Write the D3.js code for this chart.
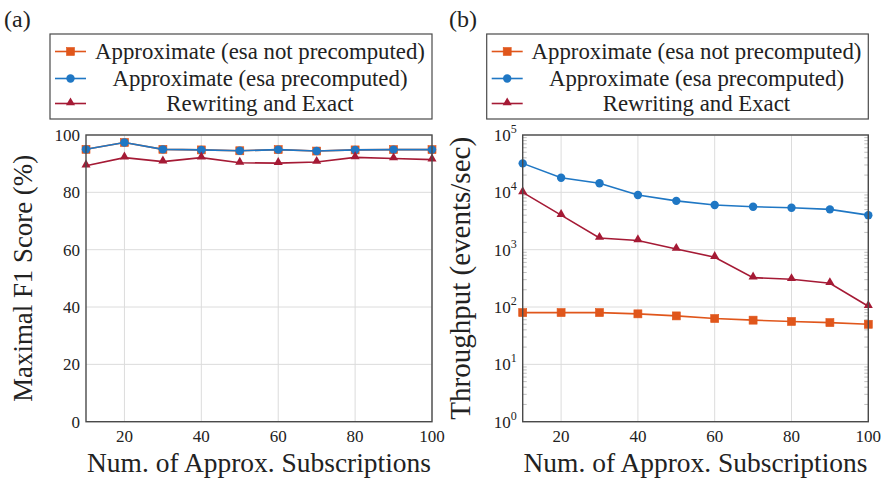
<!DOCTYPE html>
<html>
<head>
<meta charset="utf-8">
<script src="https://cdn.jsdelivr.net/npm/d3@7"></script>
<style>
  body { margin: 0; background: #fff; }
</style>
</head>
<body>
<svg id="chart" width="885" height="482"></svg>
<script>
// Data
const subscriptions = [10, 20, 30, 40, 50, 60, 70, 80, 90, 100];

// (a) maximal F1 score (%)
const f1NotPrecomputed = [95.0, 97.4, 95.0, 94.8, 94.5, 94.9, 94.4, 94.8, 94.9, 94.9];
const f1Precomputed    = [95.0, 97.4, 95.0, 94.8, 94.5, 94.9, 94.4, 94.8, 94.9, 94.9];
const f1Rewriting      = [89.3, 92.1, 90.7, 92.1, 90.3, 90.2, 90.6, 92.2, 91.8, 91.4];

// (b) throughput (events/sec)
const tpNotPrecomputed = [80, 80, 80, 76, 70, 63, 59, 56, 53.5, 50];
const tpPrecomputed    = [32000, 18000, 14400, 9000, 7100, 6000, 5600, 5400, 5050, 4000];
const tpRewriting      = [10000, 4000, 1600, 1450, 1030, 740, 325, 305, 260, 103];

const seriesNames = ["Approximate (esa not precomputed)", "Approximate (esa precomputed)", "Rewriting and Exact"];
const xTicks = [20, 40, 60, 80, 100];
const f1Ticks = [0, 20, 40, 60, 80, 100];
const tpTicks = [1, 10, 100, 1000, 10000, 100000];

const colors = ["#e0561b", "#1f77c4", "#a51a35"];
const markers = ["square", "circle", "triangle"];
const serif = "'Liberation Serif', 'DejaVu Serif', 'Noto Serif', Tinos, 'Nimbus Roman', 'Times New Roman', Times, Georgia, serif";

const svg = d3.select("#chart").attr("font-family", serif);

// scale a text's font size so it spans the width seen in the reference
function fitWidth(sel, target) {
  const w = sel.node().getComputedTextLength();
  const fs = +sel.attr("font-size");
  if (w > 0) sel.attr("font-size", (fs * target / w).toFixed(2));
}

function drawMarker(g, type, x, y, color) {
  if (type === "square") {
    g.append("rect").attr("x", x - 4).attr("y", y - 4).attr("width", 8).attr("height", 8)
      .attr("fill", color).attr("stroke", color).attr("stroke-width", 0.6);
  } else if (type === "circle") {
    g.append("circle").attr("cx", x).attr("cy", y).attr("r", 4.2).attr("fill", color);
  } else {
    const s = d3.symbol().type(d3.symbolTriangle).size(36);
    g.append("path").attr("d", s()).attr("transform", `translate(${x},${y - 0.8})`).attr("fill", color);
  }
}

function drawPanel(opts) {
  const { left, right, y, yTicks, yFormat, series, label, yTitle, legendLeft, labelX } = opts;
  const pTop = opts.plotTop, pBottom = opts.plotBottom;
  const x = d3.scaleLinear().domain([10, 100]).range([left, right]);
  const g = svg.append("g");

  // grid
  g.append("g").selectAll("line").data(xTicks).join("line")
    .attr("x1", d => x(d)).attr("x2", d => x(d)).attr("y1", pTop).attr("y2", pBottom)
    .attr("stroke", "#dcdcdc").attr("stroke-width", 1);
  g.append("g").selectAll("line").data(yTicks).join("line")
    .attr("x1", left).attr("x2", right).attr("y1", d => y(d)).attr("y2", d => y(d))
    .attr("stroke", "#dcdcdc").attr("stroke-width", 1);

  // minor ticks for log axis
  if (opts.log) {
    const minors = [];
    for (let e = 0; e < 5; e++) for (let m = 2; m <= 9; m++) minors.push(m * Math.pow(10, e));
    [left, right].forEach((edge, i) => {
      g.append("g").selectAll("line").data(minors).join("line")
        .attr("x1", edge).attr("x2", edge + (i === 0 ? 4 : -4))
        .attr("y1", d => y(d)).attr("y2", d => y(d))
        .attr("stroke", "#b0b0b0").attr("stroke-width", 0.8);
    });
  }

  // x tick labels
  g.append("g").selectAll("text").data(xTicks).join("text")
    .attr("x", d => x(d)).attr("y", pBottom + 20)
    .attr("text-anchor", "middle").attr("font-size", 17).attr("fill", "#222")
    .text(d => d);

  // y tick labels
  const yl = g.append("g").selectAll("text").data(yTicks).join("text")
    .attr("x", left - 6).attr("y", d => y(d) + 6)
    .attr("text-anchor", "end").attr("font-size", 17).attr("fill", "#222");
  yFormat(yl);

  // series
  series.forEach((s, i) => {
    const line = d3.line().x((d, j) => x(subscriptions[j])).y(d => y(d));
    g.append("path").datum(s).attr("d", line).attr("fill", "none")
      .attr("stroke", colors[i]).attr("stroke-width", 1.6);
    const mg = g.append("g");
    s.forEach((v, j) => drawMarker(mg, markers[i], x(subscriptions[j]), y(v), colors[i]));
  });

  // frame
  g.append("rect").attr("x", left).attr("y", pTop).attr("width", right - left).attr("height", pBottom - pTop)
    .attr("fill", "none").attr("stroke", "#4a4a4a").attr("stroke-width", 1.4);

  // axis titles
  const xt = g.append("text").attr("x", (left + right) / 2).attr("y", 472)
    .attr("text-anchor", "middle").attr("font-size", 24).attr("fill", "#222")
    .text("Num. of Approx. Subscriptions");
  fitWidth(xt, 344);
  const yt = g.append("text").attr("transform", `translate(${opts.yTitleX},${(pTop + pBottom) / 2}) rotate(-90)`)
    .attr("text-anchor", "middle").attr("font-size", 24).attr("fill", "#222")
    .text(yTitle);
  fitWidth(yt, opts.yTitleWidth);

  // panel label
  g.append("text").attr("x", labelX).attr("y", 27).attr("font-size", 24).attr("fill", "#222").text(label);

  // legend
  const lg = g.append("g");
  lg.append("rect").attr("x", legendLeft).attr("y", 34).attr("width", right - legendLeft).attr("height", 85)
    .attr("fill", "#fff").attr("stroke", "#4a4a4a").attr("stroke-width", 1.2);
  const rowY = [51.5, 78.5, 103.5];
  const textCenter = (legendLeft + 38 + right) / 2;
  const texts = seriesNames.map((name, i) => {
    lg.append("line").attr("x1", legendLeft + 5).attr("x2", legendLeft + 36)
      .attr("y1", rowY[i]).attr("y2", rowY[i]).attr("stroke", colors[i]).attr("stroke-width", 1.6);
    drawMarker(lg, markers[i], legendLeft + 20.5, rowY[i], colors[i]);
    return lg.append("text").attr("x", textCenter).attr("y", rowY[i] + 7)
      .attr("text-anchor", "middle").attr("font-size", 22).attr("fill", "#222").text(name);
  });
  fitWidth(texts[0], 330);
  texts.forEach(t => t.attr("font-size", texts[0].attr("font-size")));
}

const plotTop = 135, plotBottom = 421.7;

// (a)
drawPanel({
  left: 86, right: 432, plotTop, plotBottom,
  y: d3.scaleLinear().domain([0, 100]).range([plotBottom, plotTop]),
  yTicks: f1Ticks,
  yFormat: sel => sel.text(d => d),
  series: [f1NotPrecomputed, f1Precomputed, f1Rewriting],
  label: "(a)", labelX: 4, yTitle: "Maximal F1 Score (%)", yTitleX: 32, yTitleWidth: 247, legendLeft: 50
});

// (b)
drawPanel({
  left: 522.7, right: 868.3, plotTop, plotBottom, log: true,
  y: d3.scaleLog().domain([1, 100000]).range([plotBottom, plotTop]),
  yTicks: tpTicks,
  yFormat: sel => {
    sel.text("10");
    sel.append("tspan").attr("dy", -8).attr("font-size", 12).text(d => Math.round(Math.log10(d)));
  },
  series: [tpNotPrecomputed, tpPrecomputed, tpRewriting],
  label: "(b)", labelX: 449, yTitle: "Throughput (events/sec)", yTitleX: 470, yTitleWidth: 283, legendLeft: 486.7
});
</script>
</body>
</html>
